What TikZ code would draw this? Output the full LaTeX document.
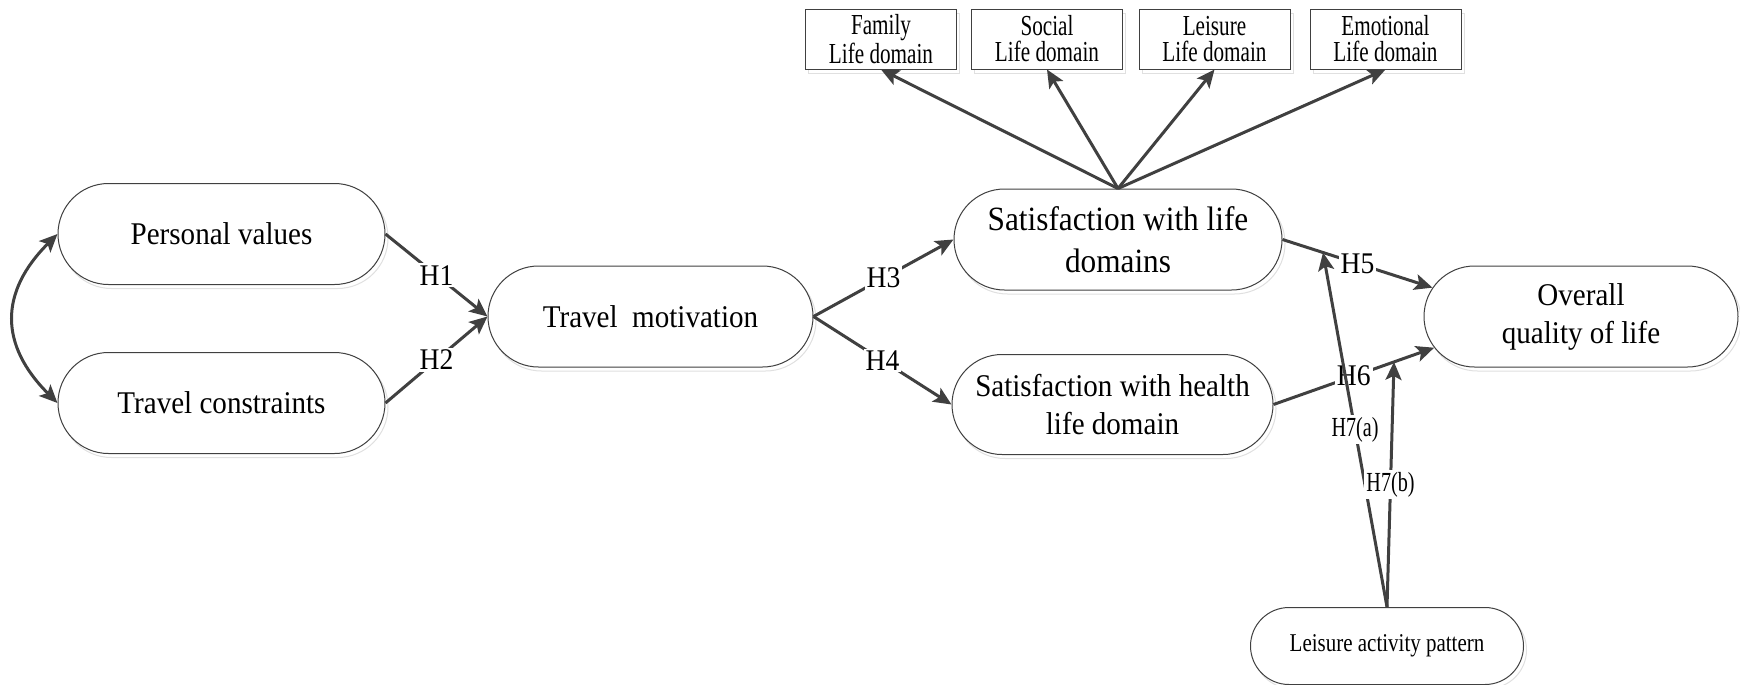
\documentclass[tikz,border=0pt]{standalone}
\usepackage{fontspec}
\setmainfont{Liberation Serif}
\newfontfamily\boxfont[FakeStretch=0.92]{Liberation Serif}
\newfontfamily\tagfont[FakeStretch=0.73]{Liberation Serif}
\newfontfamily\notefont[FakeStretch=0.82]{Liberation Serif}
\usetikzlibrary{shapes.misc, arrows.meta, shadows}

\tikzset{
  pill/.style={rounded rectangle, draw=black!75, line width=0.5pt, fill=white,
    align=center, inner sep=0pt,
    copy shadow={shadow xshift=1.5pt, shadow yshift=-2pt, fill=white, draw=black!12},
    font=\boxfont\fontsize{15.8}{19}\selectfont},
  tagbox/.style={rectangle, draw=black!75, line width=0.5pt, fill=white,
    align=center, inner sep=0pt, minimum width=75.5pt, minimum height=30pt,
    copy shadow={shadow xshift=1.5pt, shadow yshift=-2pt, fill=white, draw=black!12},
    font=\tagfont\fontsize{14.5}{13}\selectfont},
  link/.style={draw=black!75, line width=1.5pt, -{Stealth[length=9pt, width=8pt, inset=2pt]}},
  twoway/.style={link, {Stealth[length=9pt, width=8pt, inset=2pt]}-{Stealth[length=9pt, width=8pt, inset=2pt]}},
  hyp/.style={fill=white, inner sep=1pt, font=\boxfont\fontsize{15}{17}\selectfont},
  hypsub/.style={fill=white, inner sep=1pt, font=\tagfont\fontsize{13.8}{15}\selectfont}
}

\begin{document}
\begin{tikzpicture}[x=0.5pt, y=0.5pt]
\useasboundingbox (0,0) rectangle (1740,-685);

% constructs
\node[pill, minimum width=163.5pt, minimum height=50.5pt] (pv) at (221.5,-234) {Personal values};
\node[pill, minimum width=163.5pt, minimum height=50.5pt] (tc) at (221.5,-403) {Travel constraints};
\node[pill, minimum width=162.5pt, minimum height=50.5pt] (tm) at (650.5,-316.5) {Travel\ \ motivation};
\node[pill, minimum width=164pt, minimum height=50.5pt, font=\boxfont\fontsize{17}{20.8}\selectfont] (sld) at (1118,-239.5) {Satisfaction with life\\domains};
\node[pill, minimum width=160.5pt, minimum height=50pt] (shd) at (1112.5,-404.5) {Satisfaction with health\\life domain};
\node[pill, minimum width=157pt, minimum height=50.5pt] (oql) at (1581,-316.5) {Overall\\quality of life};
\node[pill, minimum width=136.5pt, minimum height=38.5pt, font=\notefont\fontsize{12.8}{14}\selectfont] (lap) at (1387,-646) {Leisure activity pattern};

% life domains
\node[tagbox] (fam) at (881,-39) {Family\\Life domain};
\node[tagbox] (soc) at (1047,-39) {Social\\Life domain};
\node[tagbox] (lei) at (1214.5,-39) {Leisure\\Life domain};
\node[tagbox] (emo) at (1385.5,-39) {Emotional\\Life domain};

% paths
\draw[twoway] (pv.west) to[out=225, in=135, looseness=1.25] (tc.west);
\draw[link] (pv.east) -- node[hyp] {H1} (tm.west);
\draw[link] (tc.east) -- node[hyp] {H2} (tm.west);
\draw[link] (tm.east) -- node[hyp] {H3} (sld.west);
\draw[link] (tm.east) -- node[hyp] {H4} (shd.west);
\foreach \d in {fam, soc, lei, emo}
  \draw[link] (sld.north) -- (\d.south);
\draw[link] (sld.east) -- coordinate[pos=0.27] (h5p) node[hyp, midway] {H5} (oql.169);
\draw[link] (shd.east) -- coordinate[pos=0.75] (h6p) node[hyp, midway] {H6} (oql.192);
\draw[link] (lap.north) -- node[hypsub] {H7(a)} (h5p);
\draw[link] (lap.north) -- node[hypsub] {H7(b)} (h6p);
\end{tikzpicture}
\end{document}
